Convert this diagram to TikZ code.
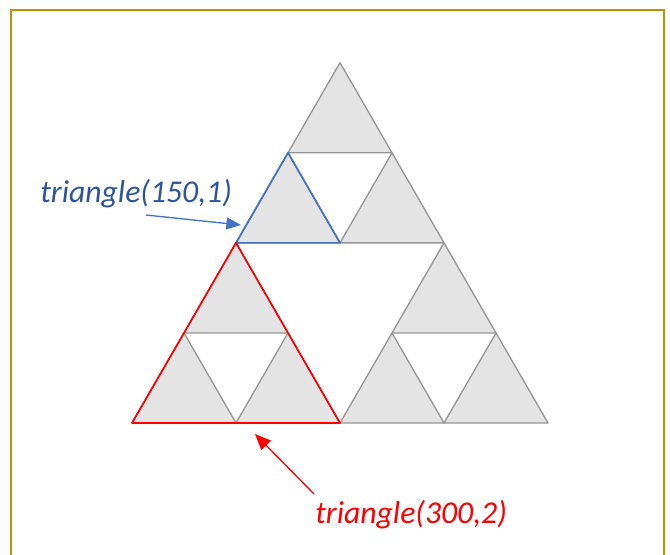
\documentclass[tikz,border=0pt]{standalone}
\usepackage{fontspec}
\usepackage{xcolor}
\usetikzlibrary{arrows.meta,calc}
\newfontfamily\lblfont{Carlito}
\definecolor{frameC}{HTML}{BF9000}
\definecolor{triFill}{HTML}{E4E4E4}
\definecolor{triLine}{HTML}{969696}
\definecolor{lblBlue}{HTML}{2F5597}
\definecolor{arrBlue}{HTML}{4472C4}

\begin{document}
\begin{tikzpicture}[
  x=0.75pt, y=-0.75pt,
  frm/.style={draw=frameC, line width=2pt},
  tri/.style={draw=triLine, fill=triFill, line width=1pt, line join=round},
  hlb/.style={draw=arrBlue, line width=1.3pt, line join=round},
  hlr/.style={draw=red, line width=1.3pt, line join=round},
  lbl/.style={font=\lblfont\itshape\fontsize{23.8}{28}\selectfont, inner sep=0pt, anchor=base west},
  arb/.style={-{Triangle[length=11pt,width=9pt]}, arrBlue, line width=1pt},
  arr/.style={-{Triangle[length=12pt,width=10pt]}, red, line width=1pt}
]
\useasboundingbox (0,0) rectangle (670,554);
\draw[frm] (11,560) |- (664,10) -- (664,560);

% level-2 triangles, lower-left corners
\foreach \x/\y in {132/423, 236/423, 184/332.93,
                   340/423, 444/423, 392/332.93,
                   236/242.86, 340/242.86, 288/152.79}
  \draw[tri] (\x,\y) -- ++(104,0) -- ++(-52,-90.07) -- cycle;

% highlighted triangles
\coordinate (p1) at (236,242.86);
\coordinate (p2) at (340,242.86);
\coordinate (p3) at (288,152.79);
\draw[hlb] (p1) -- (p2) -- (p3) -- cycle;

\coordinate (q1) at (132,423);
\coordinate (q2) at (340,423);
\coordinate (q3) at (236,242.86);
\draw[hlr] (q1) -- (q2) -- (q3) -- cycle;

% labels
\node[lbl, lblBlue] (t1) at (40,202) {triangle(150,1)};
\node[lbl, red] (t2) at (315,523) {triangle(300,2)};

\coordinate (b0) at (146,215);
\coordinate (b1) at (241,225);
\draw[arb] (b0) -- (b1);

\coordinate (r0) at (314,494);
\coordinate (r1) at (255,434);
\draw[arr] (r0) -- (r1);
\end{tikzpicture}
\end{document}
